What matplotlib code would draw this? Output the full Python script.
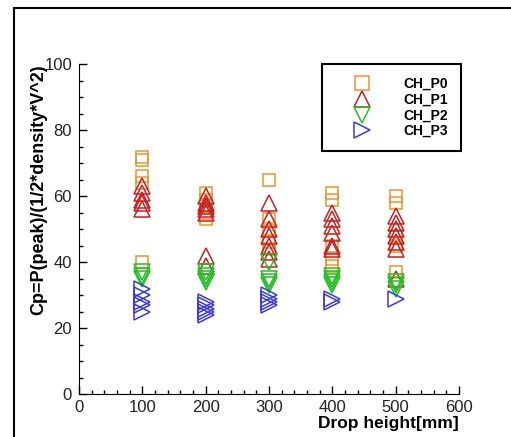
import matplotlib.pyplot as plt
from matplotlib.lines import Line2D
from matplotlib.ticker import MultipleLocator

plt.rcParams['font.family'] = ['Liberation Sans', 'DejaVu Sans']

# Pressure coefficient samples per drop height
heights = [100, 200, 300, 400, 500]

cp_p0 = {100: [72, 71, 66, 64, 40],
         200: [61, 59, 57, 55, 53],
         300: [65, 53, 50, 46, 44],
         400: [61, 59, 45, 41, 39],
         500: [60, 58, 48, 45, 37]}
cp_p1 = {100: [63, 61, 59, 58, 56],
         200: [60, 58, 57, 56, 55, 42, 39],
         300: [58, 53, 50, 48, 45, 43, 41],
         400: [55, 53, 51, 49, 45, 44],
         500: [54, 52, 50, 48, 46, 44, 35]}
cp_p2 = {100: [37, 36, 35],
         200: [37, 36, 35, 34],
         300: [40, 35, 34, 33],
         400: [36, 35, 34, 33],
         500: [34, 33, 32]}
cp_p3 = {100: [32, 30, 28, 27, 25],
         200: [28, 27, 26, 25, 24],
         300: [30, 29, 28, 27],
         400: [29, 28],
         500: [29]}

series = [('CH_P0', cp_p0, 's', '#f0922e', 9),
          ('CH_P1', cp_p1, '^', '#c8201e', 11),
          ('CH_P2', cp_p2, 'v', '#22c022', 11),
          ('CH_P3', cp_p3, '>', '#3a3ae0', 11)]

fig = plt.figure(figsize=(5.11, 4.37), dpi=100)
ax = fig.add_axes([0.1546, 0.0973, 0.7434, 0.7562])

for label, data, marker, color, size in series:
    xs, ys = [], []
    for h in heights:
        xs += [h] * len(data[h])
        ys += data[h]
    ax.plot(xs, ys, linestyle='none', marker=marker, markersize=size,
            markerfacecolor='none', markeredgecolor=color,
            markeredgewidth=1.1, label=label)

ax.set_xlim(0, 600)
ax.set_ylim(0, 100)
ax.xaxis.set_major_locator(MultipleLocator(100))
ax.xaxis.set_minor_locator(MultipleLocator(20))
ax.yaxis.set_major_locator(MultipleLocator(20))
ax.yaxis.set_minor_locator(MultipleLocator(5))
ax.tick_params(which='both', direction='in', top=False, right=False,
               labelsize=12, width=1, labelcolor='#222222')
ax.tick_params(which='major', length=6)
ax.tick_params(which='minor', length=3)
ax.spines['top'].set_visible(False)
ax.spines['right'].set_visible(False)
ax.xaxis.set_tick_params(pad=4)
ax.yaxis.set_tick_params(pad=5)

ax.set_ylabel('Cp=P(peak)/(1/2*density*V^2)', fontsize=13, fontweight='bold',
              labelpad=-2, y=0.62)
ax.set_xlabel('Drop height[mm]', fontsize=12.5, fontweight='bold', loc='right',
              labelpad=1)

leg = ax.legend(loc='upper right', bbox_to_anchor=(1.005, 1.0), fancybox=False,
                edgecolor='black', framealpha=1, handlelength=3.9,
                handletextpad=1.0, labelspacing=0.12, borderpad=0.95,
                borderaxespad=0, prop={'weight': 'bold', 'size': 10})
leg.get_frame().set_linewidth(1.5)
for h, (_, _, _, _, size) in zip(leg.legend_handles, series):
    h.set_markersize(size + 1)

# outer frame lines
fig.add_artist(Line2D([0.0274, 0.0274], [0, 0.9817], color='black', lw=1.5))
fig.add_artist(Line2D([0.0274, 1.0], [0.9817, 0.9817], color='black', lw=1.5))

fig.savefig('out.png', dpi=100)
